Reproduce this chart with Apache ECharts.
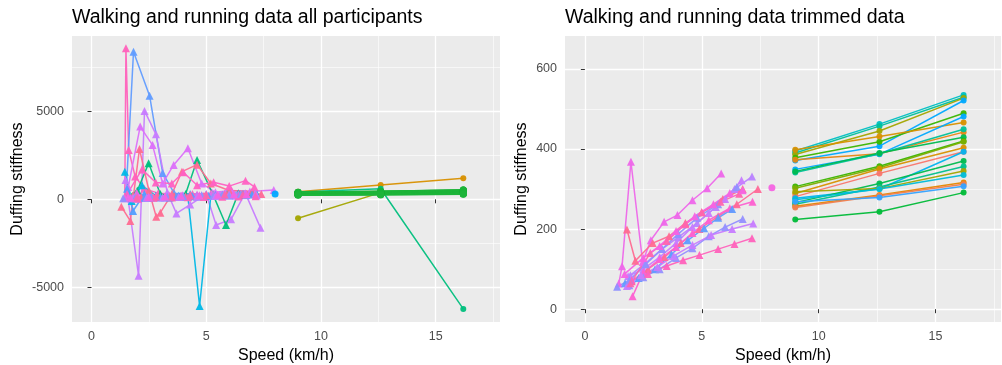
<!DOCTYPE html>
<html>
<head>
<meta charset="utf-8">
<script src="https://cdn.jsdelivr.net/npm/echarts@6/dist/echarts.min.js"></script>
<style>
  html, body { margin: 0; padding: 0; background: #fff; }
  #chart { width: 1002px; height: 365px; }
</style>
</head>
<body>
<div id="chart"></div>
<script>
// axis ticks
const speedTicks = [0, 5, 10, 15];
const speedMinor = [2.5, 7.5, 12.5, 17.5];
const allTicks = [-5000, 0, 5000];
const allMinor = [-2500, 2500, 7500];
const trimTicks = [0, 200, 400, 600];
const trimMinor = [100, 300, 500];

// running: stiffness at each running speed, one row per participant
const runSpeeds = [9.0, 12.6, 16.2];
const runTrimmed = [
  [395, 462, 535], [390, 457, 529], [386, 445, 527], [371, 407, 521],
  [378, 418, 489], [398, 431, 466], [373, 388, 442], [349, 387, 481],
  [341, 388, 449], [344, 390, 429], [306, 357, 420], [302, 353, 418],
  [289, 350, 403], [281, 339, 393], [277, 300, 393], [266, 314, 370],
  [262, 305, 356], [293, 301, 345], [273, 300, 335], [257, 285, 316],
  [254, 283, 312], [268, 279, 307], [224, 243, 291]
];
const runColors = [
  '#00BFC4', '#00C19A', '#A3A500', '#00A9FF', '#39B600', '#D89000',
  '#E68613', '#00A9FF', '#00C19A', '#00BB4E', '#39B600', '#7CAE00',
  '#D89000', '#F8766D', '#00B4F0', '#00BB4E', '#00C08B', '#A3A500',
  '#00BCD8', '#E58700', '#F07E4F', '#35A2FF', '#00BA38'
];
const runOutliers = [[432, 812, 1193], [-1080, 380, 430], [420, 600, -6230]];
const runOutlierColors = ['#D89000', '#A3A500', '#00BF7D'];

// walking: [speed, stiffness] per participant
const walkTrimmed = [
  [[1.45, 64], [1.59, 107], [1.97, 368], [2.47, 118], [2.82, 172], [3.39, 218], [3.96, 235], [4.6, 272], [5.23, 302], [5.83, 339]],
  [[1.8, 199], [2.16, 121], [2.9, 165], [3.6, 182], [4.3, 215], [5.0, 242], [5.9, 275], [6.75, 300]],
  [[1.85, 82], [2.5, 100], [3.2, 130], [3.9, 165], [4.6, 205], [5.3, 240], [6.0, 275], [6.7, 322]],
  [[1.95, 85], [2.6, 115], [3.3, 150], [4.0, 180], [4.8, 215], [5.6, 255], [6.4, 300], [7.15, 331]],
  [[2.0, 70], [2.7, 100], [3.4, 130], [4.1, 165], [4.9, 200], [5.7, 232], [6.5, 262], [7.4, 300]],
  [[2.04, 32], [2.5, 92], [3.2, 125], [3.9, 155], [4.6, 190], [5.3, 222], [6.2, 252], [7.17, 268]],
  [[1.72, 65], [2.3, 78], [3.0, 100], [3.7, 137], [4.4, 172], [5.1, 202], [5.7, 228], [6.3, 250]],
  [[1.9, 60], [2.5, 80], [3.2, 100], [3.9, 128], [4.6, 152], [5.3, 182], [6.0, 205], [6.75, 225]],
  [[1.8, 58], [2.4, 85], [3.1, 105], [3.8, 133], [4.6, 160], [5.4, 185], [6.3, 200], [7.2, 214]],
  [[2.0, 72], [2.7, 88], [3.5, 108], [4.2, 122], [4.9, 135], [5.7, 150], [6.4, 163], [7.15, 177]],
  [[1.38, 56], [1.9, 72], [2.6, 112], [3.3, 150], [4.0, 188], [4.8, 228], [5.7, 262], [6.5, 305]],
  [[1.95, 65], [2.8, 140], [3.5, 170], [4.3, 212], [5.0, 242], [5.8, 268], [6.6, 288]],
  [[1.7, 88], [2.5, 128], [3.2, 158], [3.9, 195], [4.7, 232], [5.5, 262], [6.2, 290], [6.75, 297]]
];
const walkColors = [
  '#EE67EA', '#FF6C91', '#C77CFF', '#B983FF', '#FF6A98', '#FD61D1', '#619CFF',
  '#9590FF', '#C77CFF', '#FF62BC', '#8F91FF', '#FF65AE', '#F564E3'
];
const walkOutliers = [
  [[1.45, 120], [1.5, 8580], [1.62, 2800], [1.9, 1300], [2.3, 600], [2.9, 350], [3.6, 280], [4.4, 300], [5.2, 320], [6.0, 330], [7.0, 340]],
  [[1.5, 150], [1.83, 8390], [2.53, 5890], [3.1, 1500], [3.6, 350], [4.3, 300], [5.0, 280], [5.8, 300], [6.6, 320]],
  [[1.48, 1100], [2.05, -4340], [2.31, 5020], [2.81, 3690], [3.3, 400], [3.7, -800], [4.3, -300], [5.0, 300], [5.43, -1460], [6.08, -1140], [6.7, 350], [7.36, -1610]],
  [[1.6, 700], [2.12, 4130], [2.66, 3080], [3.1, 900], [3.58, 1950], [4.2, 2900], [4.8, 900], [5.4, 400], [6.1, 500], [6.9, 450], [7.94, 530]],
  [[1.5, 100], [2.0, 500], [2.49, 2050], [3.0, 300], [3.6, 150], [4.1, 300], [4.6, 2230], [5.3, 250], [5.86, -1460], [6.4, 350], [7.0, 380]],
  [[1.3, -420], [1.69, -1230], [2.09, 2860], [2.5, 500], [2.82, -990], [3.0, -760], [3.5, 300], [3.94, 1570], [4.6, 1970], [5.2, 900], [6.0, 500], [7.0, 450]],
  [[1.45, 1570], [1.75, -100], [2.2, 800], [2.8, 200], [3.4, 100], [4.2, 150], [4.71, -6060], [5.2, 200], [5.9, 280], [6.6, 250], [7.2, 300]],
  [[1.55, 600], [1.81, -665], [2.3, 300], [3.0, 150], [3.8, 200], [4.6, 220], [5.4, 240], [6.2, 260], [7.0, 270]],
  [[1.55, 300], [2.2, 1700], [2.8, 950], [3.5, 900], [4.0, 1540], [4.6, 800], [5.32, 965], [6.0, 750], [6.71, 1060], [7.1, 700]]
];
const walkOutlierColors = ['#FF62BC', '#619CFF', '#C77CFF', '#DC71FA', '#00BF7D', '#FF6C91', '#00B8E7', '#529EFF', '#FF61C3'];
// single walking point recorded as a circle
const loneWalk = [[8.0, 303]];

const FONT = '"Liberation Sans", Arial, sans-serif';

function xAxes(gridIndex, major) {
  if (!major) {
    return {
      type: 'value', gridIndex: gridIndex, min: -0.85, max: 17.8,
      axisLine: { show: false }, axisTick: { show: false, customValues: speedMinor },
      axisLabel: { show: false, customValues: speedMinor },
      splitLine: { show: true, lineStyle: { color: '#fff', width: 0.6 } }
    };
  }
  return {
    type: 'value', gridIndex: gridIndex, min: -0.85, max: 17.8,
    name: 'Speed (km/h)', nameLocation: 'middle', nameGap: 23,
    nameTextStyle: { fontFamily: FONT, fontSize: 16, color: '#000' },
    axisLine: { show: false },
    axisTick: { show: true, length: 4, customValues: speedTicks, lineStyle: { color: '#333', width: 1 } },
    axisLabel: { customValues: speedTicks, margin: 8, fontFamily: FONT, fontSize: 12.5, color: '#4D4D4D' },
    splitLine: { show: true, lineStyle: { color: '#fff', width: 1.3 } }
  };
}

function yAxes(gridIndex, major, min, max, ticks, minor, gap) {
  if (!major) {
    return {
      type: 'value', gridIndex: gridIndex, min: min, max: max,
      axisLine: { show: false }, axisTick: { show: false, customValues: minor },
      axisLabel: { show: false, customValues: minor },
      splitLine: { show: true, lineStyle: { color: '#fff', width: 0.6 } }
    };
  }
  return {
    type: 'value', gridIndex: gridIndex, min: min, max: max,
    name: 'Duffing stiffness', nameLocation: 'middle', nameGap: gap,
    nameTextStyle: { fontFamily: FONT, fontSize: 16, color: '#000' },
    axisLine: { show: false },
    axisTick: { show: true, length: 4, customValues: ticks, lineStyle: { color: '#333', width: 1 } },
    axisLabel: {
      customValues: ticks, margin: 8, fontFamily: FONT, fontSize: 12.5, color: '#4D4D4D',
      formatter: v => String(v)
    },
    splitLine: { show: true, lineStyle: { color: '#fff', width: 1.3 } }
  };
}

function lineSeries(idx, data, color, symbol, size) {
  return {
    type: 'line', xAxisIndex: idx, yAxisIndex: idx, data: data,
    symbol: symbol, symbolSize: size, showSymbol: true, silent: true,
    lineStyle: { color: color, width: 1.5, opacity: 0.95 },
    itemStyle: { color: color, opacity: 0.95 },
    z: 3
  };
}

const series = [];
// left panel: all participants
walkOutliers.forEach((w, i) => series.push(lineSeries(0, w, walkOutlierColors[i], 'triangle', 8)));
walkTrimmed.forEach((w, i) => series.push(lineSeries(0, w, walkColors[i], 'triangle', 8)));
series.push(lineSeries(0, loneWalk, '#00A9FF', 'circle', 7));
runOutliers.forEach((r, i) => series.push(lineSeries(0, runSpeeds.map((s, j) => [s, r[j]]), runOutlierColors[i], 'circle', 6)));
runTrimmed.forEach(r => series.push(lineSeries(0, runSpeeds.map((s, j) => [s, r[j]]), '#1DB43A', 'circle', 7)));
// right panel: trimmed data
walkTrimmed.forEach((w, i) => series.push(lineSeries(1, w, walkColors[i], 'triangle', 8)));
series.push(lineSeries(1, loneWalk, '#F564E3', 'circle', 7));
runTrimmed.forEach((r, i) => series.push(lineSeries(1, runSpeeds.map((s, j) => [s, r[j]]), runColors[i], 'circle', 6)));

const chart = echarts.init(document.getElementById('chart'), null, { renderer: 'canvas' });
chart.setOption({
  animation: false,
  backgroundColor: '#fff',
  title: [
    { text: 'Walking and running data all participants', left: 67, top: 3,
      textStyle: { fontFamily: FONT, fontSize: 19.5, fontWeight: 'normal', color: '#000' } },
    { text: 'Walking and running data trimmed data', left: 560, top: 3,
      textStyle: { fontFamily: FONT, fontSize: 19.5, fontWeight: 'normal', color: '#000' } }
  ],
  grid: [
    { left: 72, right: 502, top: 36, bottom: 43, show: true, backgroundColor: '#EBEBEB', borderWidth: 0, outerBoundsMode: 'none' },
    { left: 565, right: 1, top: 36, bottom: 43, show: true, backgroundColor: '#EBEBEB', borderWidth: 0, outerBoundsMode: 'none' }
  ],
  xAxis: [xAxes(0, true), xAxes(1, true), xAxes(0, false), xAxes(1, false)],
  yAxis: [
    yAxes(0, true, -6972, 9279, allTicks, allMinor, 46),
    yAxes(1, true, -32, 682, trimTicks, trimMinor, 35),
    yAxes(0, false, -6972, 9279, allTicks, allMinor),
    yAxes(1, false, -32, 682, trimTicks, trimMinor)
  ],
  series: series
});
</script>
</body>
</html>
